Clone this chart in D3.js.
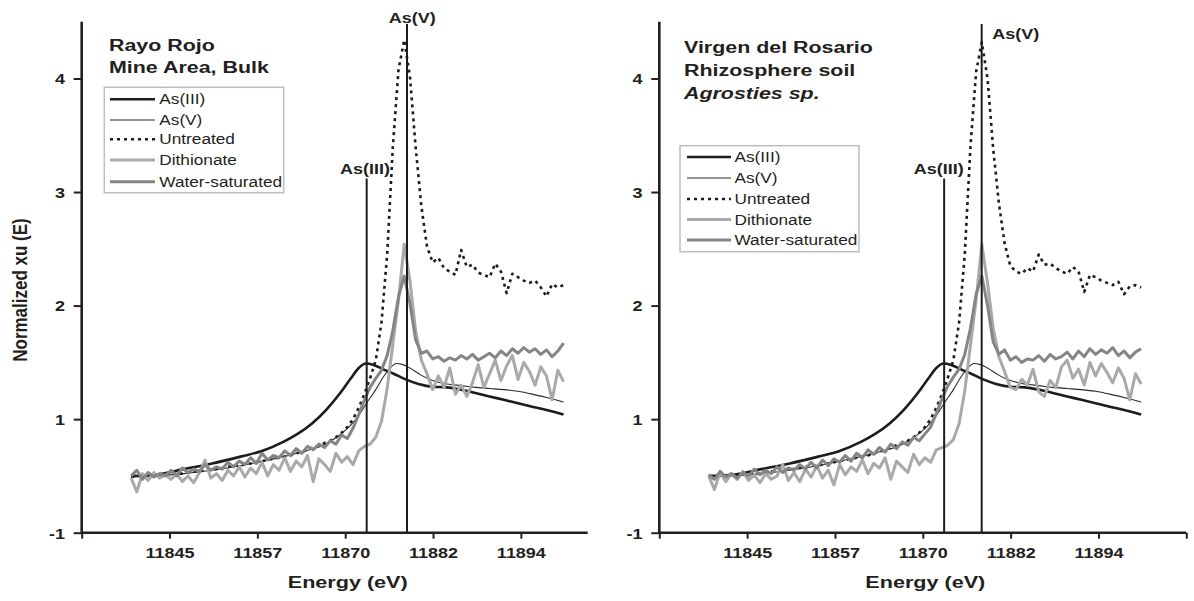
<!DOCTYPE html>
<html><head><meta charset="utf-8">
<script src="https://cdn.jsdelivr.net/npm/d3@7"></script>
<style>body{margin:0;background:#fff}svg{display:block}</style>
</head><body><svg id="c" width="1194" height="601"></svg>
<script>
// ---------- data ----------
const energy = [11839.6,11840.4,11841.2,11842.0,11842.8,11843.6,11844.4,11845.2,11846.0,11846.8,
11847.6,11848.4,11849.2,11850.0,11850.8,11851.6,11852.4,11853.2,11854.0,11854.8,
11855.6,11856.4,11857.2,11858.0,11858.8,11859.6,11860.4,11861.2,11862.0,11862.8,
11863.6,11864.4,11865.2,11866.0,11866.8,11867.6,11868.4,11869.2,11870.0,11870.8,
11871.6,11872.4,11873.2,11874.0,11874.8,11875.6,11876.4,11877.2,11878.0,11878.8,
11879.6,11880.4,11881.2,11882.0,11882.8,11883.6,11884.4,11885.2,11886.0,11886.8,
11887.6,11888.4,11889.2,11890.0,11890.8,11891.6,11892.4,11893.2,11894.0,11894.8,
11895.6,11896.4,11897.2,11898.0,11898.8,11899.6,11900.4];

const asIIIEnergy = [11839.6,11843,11847,11851,11855,11858,11861,11863,11865,11867,11869,11870.5,11871.6,11872.6,11873.6,11875,11876.5,11878.2,11880,11882,11884,11886,11888,11890,11892,11894,11896,11898,11900.4];
const asIII = [0.50,0.51,0.56,0.61,0.67,0.72,0.80,0.87,0.96,1.08,1.23,1.36,1.45,1.49,1.48,1.44,1.40,1.35,1.31,1.285,1.28,1.26,1.23,1.20,1.17,1.14,1.11,1.08,1.04];

const asVEnergy = [11839.6,11843,11847,11851,11855,11858,11861,11864,11866.2,11868,11869.5,11870.8,11872,11872.7,11874,11875.1,11876,11876.9,11877.8,11878.8,11880.3,11882,11884,11886,11888,11890,11892,11894,11896,11898,11900.4];
const asV = [0.49,0.50,0.52,0.55,0.59,0.63,0.67,0.72,0.76,0.82,0.89,0.97,1.07,1.14,1.26,1.375,1.45,1.49,1.48,1.45,1.39,1.34,1.31,1.295,1.28,1.27,1.26,1.245,1.22,1.19,1.15];

const untreatedLeft = [0.49,0.50,0.50,0.50,0.51,0.51,0.51,0.52,0.52,0.52,
0.53,0.54,0.54,0.55,0.56,0.56,0.57,0.58,0.59,0.59,
0.60,0.61,0.62,0.63,0.64,0.65,0.66,0.67,0.68,0.70,
0.71,0.73,0.75,0.77,0.79,0.81,0.84,0.88,0.93,1.00,
1.10,1.22,1.36,1.52,1.85,2.45,3.40,4.08,4.34,4.02,
3.40,2.88,2.52,2.38,2.42,2.33,2.30,2.27,2.49,2.34,
2.36,2.29,2.27,2.25,2.37,2.30,2.11,2.28,2.25,2.22,
2.20,2.22,2.16,2.08,2.19,2.16,2.18];
const dithionateLeft = [0.48,0.36,0.52,0.46,0.53,0.48,0.51,0.47,0.52,0.45,
0.50,0.44,0.53,0.64,0.48,0.52,0.46,0.55,0.50,0.58,
0.49,0.57,0.52,0.62,0.50,0.60,0.55,0.66,0.54,0.63,
0.58,0.68,0.45,0.65,0.60,0.54,0.70,0.62,0.67,0.60,
0.72,0.76,0.78,0.84,0.98,1.27,1.66,2.05,2.54,2.22,
1.78,1.52,1.40,1.26,1.38,1.28,1.45,1.22,1.30,1.20,
1.32,1.48,1.28,1.40,1.52,1.34,1.47,1.56,1.35,1.50,
1.42,1.30,1.46,1.38,1.17,1.43,1.33];
const waterLeft = [0.50,0.55,0.47,0.53,0.49,0.52,0.50,0.55,0.50,0.57,
0.53,0.56,0.54,0.60,0.55,0.58,0.56,0.62,0.58,0.63,
0.60,0.66,0.61,0.70,0.64,0.68,0.66,0.72,0.68,0.74,
0.70,0.76,0.73,0.78,0.75,0.81,0.78,0.86,0.83,0.92,
1.04,1.17,1.28,1.36,1.43,1.56,1.78,2.08,2.26,2.02,
1.70,1.58,1.60,1.53,1.55,1.51,1.54,1.52,1.56,1.53,
1.57,1.52,1.55,1.58,1.54,1.60,1.56,1.62,1.58,1.63,
1.59,1.62,1.57,1.61,1.55,1.60,1.67];

const untreatedRight = [0.49,0.50,0.50,0.50,0.51,0.51,0.51,0.52,0.52,0.52,
0.53,0.54,0.54,0.55,0.56,0.56,0.57,0.58,0.59,0.59,
0.60,0.61,0.62,0.63,0.64,0.65,0.66,0.67,0.68,0.70,
0.71,0.73,0.75,0.77,0.79,0.81,0.84,0.88,0.93,1.00,
1.10,1.22,1.36,1.52,1.85,2.45,3.40,4.06,4.32,4.00,
3.38,2.90,2.55,2.35,2.30,2.28,2.33,2.30,2.45,2.36,
2.37,2.33,2.30,2.28,2.34,2.30,2.12,2.27,2.25,2.22,
2.20,2.18,2.21,2.10,2.17,2.18,2.16];
const dithionateRight = [0.50,0.38,0.53,0.45,0.52,0.47,0.54,0.46,0.51,0.44,
0.52,0.47,0.50,0.60,0.46,0.53,0.45,0.56,0.49,0.59,
0.48,0.55,0.42,0.60,0.51,0.58,0.54,0.64,0.52,0.61,
0.57,0.66,0.47,0.63,0.58,0.53,0.69,0.60,0.66,0.62,
0.73,0.75,0.77,0.82,0.96,1.25,1.65,2.05,2.54,2.20,
1.80,1.55,1.42,1.28,1.26,1.35,1.30,1.44,1.24,1.20,
1.34,1.28,1.46,1.52,1.36,1.44,1.30,1.50,1.38,1.49,
1.41,1.32,1.45,1.36,1.17,1.40,1.31];
const waterRight = [0.51,0.47,0.54,0.49,0.52,0.48,0.53,0.50,0.56,0.51,
0.55,0.52,0.58,0.53,0.57,0.55,0.60,0.56,0.62,0.57,
0.64,0.59,0.65,0.62,0.68,0.63,0.70,0.66,0.73,0.69,
0.75,0.71,0.78,0.74,0.80,0.77,0.84,0.81,0.87,0.93,
1.05,1.18,1.29,1.37,1.44,1.57,1.80,2.10,2.26,2.00,
1.68,1.57,1.61,1.52,1.55,1.50,1.53,1.52,1.56,1.51,
1.57,1.53,1.55,1.59,1.53,1.60,1.55,1.62,1.57,1.61,
1.58,1.63,1.56,1.60,1.54,1.59,1.62];

const seriesNames = ["As(III)","As(V)","Untreated","Dithionate","Water-saturated"];
const xTickValues = [11832.65,11845,11857.35,11869.7,11882.05,11894.4,11906.75];
const xTickLabels = ["","11845","11857","11870","11882","11894",""];
const yTickValues = [0,1,2,3,4];
const yTickLabels = ["-1","1","2","3","4"];
const markerNames = ["As(III)","As(V)"];
const markerEnergyLeft = [11872.72,11878.39];
const markerEnergyRight = [11872.70,11877.98];
const markerTop = [3.12,4.48];
const titleLeft = ["Rayo Rojo","Mine Area, Bulk"];
const titleRight = ["Virgen del Rosario","Rhizosphere soil","Agrosties sp."];

// ---------- styles ----------
const styles = [
  {stroke:"#1c1c1c", width:2.6, dash:null, curve:d3.curveMonotoneX},
  {stroke:"#2a2a2a", width:1.1, dash:null, curve:d3.curveMonotoneX},
  {stroke:"#1c1c1c", width:2.6, dash:"3,4", curve:d3.curveLinear},
  {stroke:"#a9a9a9", width:3.0, dash:null, curve:d3.curveLinear},
  {stroke:"#858585", width:3.0, dash:null, curve:d3.curveLinear}
];
const SX = 1.23;
const FONT = "'Liberation Sans', Arial, sans-serif";
const INK = "#231f20";

const svg = d3.select("#c");
svg.append("rect").attr("width",1194).attr("height",601).attr("fill","#fff");

const x = d3.scaleLinear().domain([11832.65,11906.75]).range([0,527]);
const y = d3.scaleLinear().domain([0,4.5]).range([532.7,21.7]);

function stext(g, tx, ty, str, o) {
  return g.append("text")
    .attr("transform", `translate(${tx},${ty}) scale(${o.sx||SX},1)`)
    .attr("text-anchor", o.anchor||"start")
    .attr("font-family", FONT)
    .attr("font-size", o.size)
    .attr("font-weight", o.bold?"bold":"normal")
    .attr("font-style", o.italic?"italic":"normal")
    .attr("fill", INK)
    .text(str);
}

const panels = [
  {ox:81.7, axisEnd:506, title:titleLeft, italic:[false,false], titleX:27.3, titleY:[50.7,73.3],
   legend:{x:22.6, y:87.3, w:179.4, h:105.4, rows:[99.3,120,139.3,160,181.7], lx0:28.3, lx1:73.3, tx:77.6},
   markerE:markerEnergyLeft, labelDx:[-1.7,5.3], labelY:[174,23.3],
   data:[untreatedLeft,dithionateLeft,waterLeft]},
  {ox:659.3, axisEnd:527, title:titleRight, italic:[false,false,true], titleX:24.7, titleY:[53,76,99.3],
   legend:{x:20.7, y:145.7, w:179, h:106, rows:[157,178,199,219.5,240], lx0:27.7, lx1:71.7, tx:75.2},
   markerE:markerEnergyRight, labelDx:[-5.4,34], labelY:[174,39],
   data:[untreatedRight,dithionateRight,waterRight]}
];

panels.forEach((p, pi) => {
  const g = svg.append("g").attr("transform", `translate(${p.ox},0)`);

  const series = [
    asIIIEnergy.map((e,i)=>[e,asIII[i]]),
    asVEnergy.map((e,i)=>[e,asV[i]]),
    energy.map((e,i)=>[e,p.data[0][i]]),
    energy.map((e,i)=>[e,p.data[1][i]]),
    energy.map((e,i)=>[e,p.data[2][i]])
  ];
  series.forEach((s, si) => {
    const st = styles[si];
    const line = d3.line().x(d=>x(d[0])).y(d=>y(d[1])).curve(st.curve);
    g.append("path").attr("d", line(s)).attr("fill","none")
      .attr("stroke", st.stroke).attr("stroke-width", st.width)
      .attr("stroke-dasharray", st.dash).attr("stroke-linejoin","round");
  });

  p.markerE.forEach((e, mi) => {
    g.append("line").attr("x1",x(e)).attr("x2",x(e)).attr("y1",y(markerTop[mi])).attr("y2",y(0))
      .attr("stroke","#1c1c1c").attr("stroke-width",2);
    stext(g, x(e)+p.labelDx[mi], p.labelY[mi], markerNames[mi], {size:15, bold:true, anchor:"middle", sx:1.2});
  });

  const xt = xTickValues.filter(v => x(v) <= p.axisEnd + 0.5);
  const xa = g.append("g").attr("transform", `translate(0,${y(0)})`)
    .call(d3.axisBottom(x).tickValues(xt).tickFormat(v => xTickLabels[xTickValues.indexOf(v)]).tickSize(6).tickSizeOuter(0));
  xa.select(".domain").remove();
  xa.selectAll(".tick line").attr("stroke", INK).attr("stroke-width", 2);
  xa.selectAll(".tick text").attr("y", null).attr("dy", null)
    .attr("transform", "translate(0,25.3) scale(1.2,1)")
    .attr("font-family", FONT).attr("font-size", 15).attr("font-weight","bold").attr("fill", INK);
  g.append("line").attr("x1",-1).attr("x2",p.axisEnd).attr("y1",y(0)).attr("y2",y(0))
    .attr("stroke",INK).attr("stroke-width",2.6);

  const ya = g.append("g")
    .call(d3.axisLeft(y).tickValues(yTickValues).tickFormat((v,i)=>yTickLabels[i]).tickSize(8).tickSizeOuter(0));
  ya.select(".domain").remove();
  ya.selectAll(".tick line").attr("stroke", INK).attr("stroke-width", 2);
  ya.selectAll(".tick text").attr("x", null).attr("dy", "0.36em")
    .attr("transform", "translate(-16.7,0) scale(1.2,1)")
    .attr("font-family", FONT).attr("font-size", 15).attr("font-weight","bold").attr("fill", INK);
  g.append("line").attr("x1",0).attr("x2",0).attr("y1",y(4.5)).attr("y2",y(0)+1.3)
    .attr("stroke",INK).attr("stroke-width",2.6);

  p.title.forEach((t, ti) => stext(g, p.titleX, p.titleY[ti], t, {size:17, bold:true, italic:p.italic[ti], sx:1.26}));

  const L = p.legend;
  g.append("rect").attr("x",L.x).attr("y",L.y).attr("width",L.w).attr("height",L.h)
    .attr("fill","#fff").attr("stroke","#bdbdbd").attr("stroke-width",1.5);
  seriesNames.forEach((n, si) => {
    const st = styles[si];
    g.append("line").attr("x1",L.lx0).attr("x2",L.lx1).attr("y1",L.rows[si]).attr("y2",L.rows[si])
      .attr("stroke",st.stroke).attr("stroke-width",st.width).attr("stroke-dasharray",st.dash);
    stext(g, L.tx, L.rows[si]+5, n, {size:14, sx:SX});
  });

  stext(g, 266, 588, "Energy (eV)", {size:17, bold:true, anchor:"middle", sx:1.27});
});

svg.append("text")
  .attr("transform","translate(27,290) rotate(-90) scale(1,1.22)")
  .attr("text-anchor","middle").attr("font-family",FONT).attr("font-size",17)
  .attr("font-weight","bold").attr("fill",INK).text("Normalized xu (E)");
</script>
</body></html>
